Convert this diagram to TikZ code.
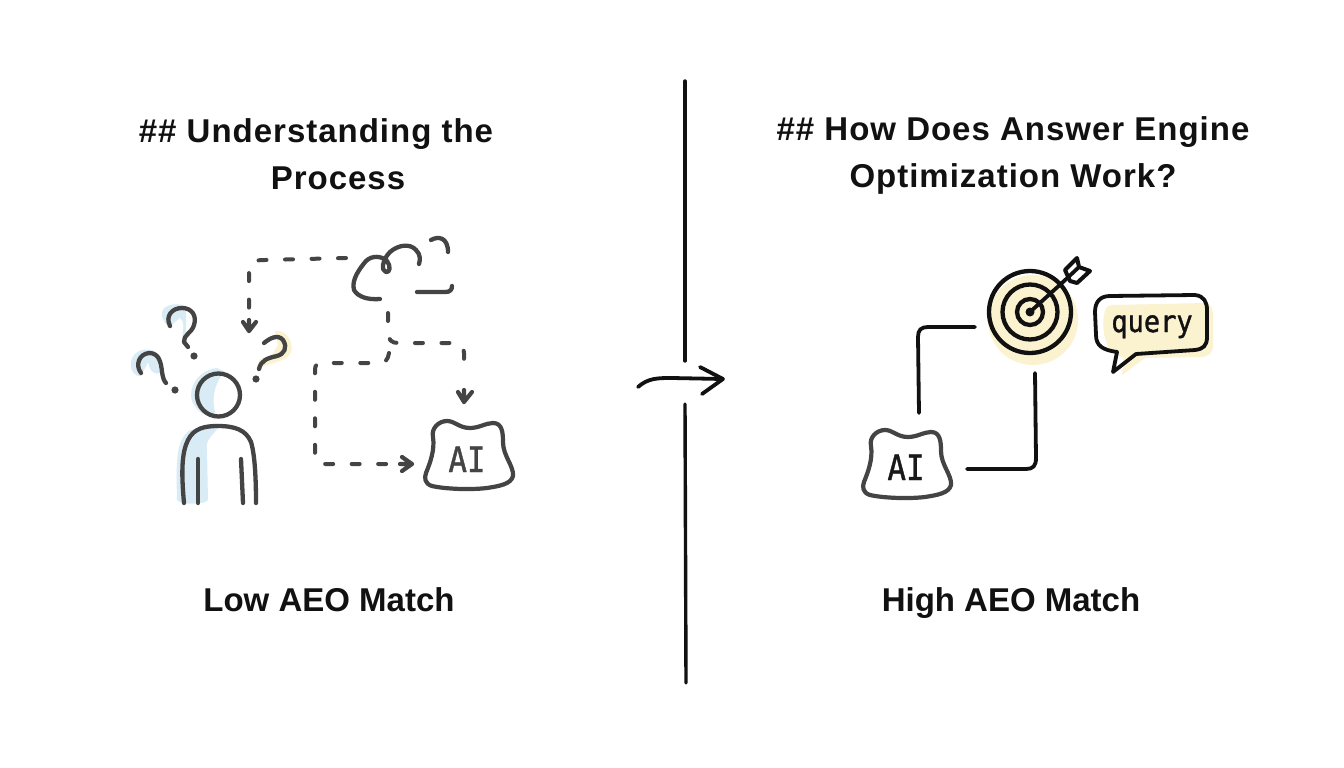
\documentclass[tikz,border=0pt]{standalone}
\usepackage{fontspec}
\usepackage{graphicx}
\setmainfont{Liberation Sans}
\newfontfamily\titlefont[LetterSpace=3]{Liberation Sans}
\newfontfamily\capfont{Liberation Sans}
\newfontfamily\aifont[FakeBold=1.3]{DejaVu Sans Mono}
\usetikzlibrary{calc}
\definecolor{ink}{HTML}{111111}
\definecolor{dgray}{HTML}{444444}
\definecolor{softblue}{HTML}{D9ECF6}
\definecolor{softyellow}{HTML}{FBF2CF}
\tikzset{
  titletext/.style={font=\titlefont\bfseries\fontsize{33}{38}\selectfont,text=ink,inner sep=0pt,anchor=base},
  captext/.style={font=\capfont\bfseries\fontsize{33}{38}\selectfont,text=ink,inner sep=0pt,anchor=base},
  lowline/.style={line width=4.3pt,draw=dgray,line cap=round,line join=round},
  dashline/.style={line width=4pt,draw=dgray,line join=round,dash pattern=on 8pt off 18.5pt,line cap=round},
  headline/.style={line width=4.2pt,draw=dgray,line cap=round,line join=round},
  inkline/.style={line width=3.8pt,draw=ink,line cap=round,line join=round},
  ringline/.style={line width=4.3pt,draw=ink},
  divider/.style={line width=3.4pt,draw=ink,line cap=round},
  blob/.style={line width=4.2pt,draw=#1,fill=white,line join=round},
  ailabel/.style={font=\aifont\fontsize{35}{38}\selectfont,inner sep=0pt,anchor=base}
}
\newcommand{\blobpath}{(433,437) .. controls (431,428) and (439,421) .. (447,421) .. controls (455,421) and (459,428) .. (470,428) .. controls (479,428) and (486,423) .. (493,423) .. controls (502,423) and (503,432) .. (503,442) .. controls (503,456) and (514,466) .. (513,476) .. controls (511,484) and (500,486) .. (487,488) .. controls (470,490) and (445,489) .. (432,486) .. controls (425,484) and (424,478) .. (426,473) .. controls (430,463) and (435,450) .. (433,437) -- cycle}
\begin{document}
\begin{tikzpicture}[x=1pt,y=-1pt]
\useasboundingbox (0,0) rectangle (1344,768);
\fill[white] (0,0) rectangle (1344,768);
% titles
\node[titletext] (t1a) at (316,142) {\#\# Understanding the};
\node[titletext] (t1b) at (338,189) {Process};
\node[titletext] (t2a) at (1013,140) {\#\# How Does Answer Engine};
\node[titletext] (t2b) at (1013,187) {Optimization Work?};
\node[captext] (c1) at (329,611) {Low AEO Match};
\node[captext] (c2) at (1011,611) {High AEO Match};
% divider
\coordinate (d1) at (685,81); \coordinate (d2) at (685,361);
\coordinate (d3) at (685,404); \coordinate (d4) at (686,683);
\draw[divider] (d1) -- (d2);
\draw[divider] (d3) -- (d4);
\draw[line width=3.8pt,draw=ink,line cap=round,line join=round] (638,387) .. controls (648,378) and (658,378) .. (672,378) -- (722,379);
\draw[line width=3.8pt,draw=ink,line cap=round,line join=round] (700,367) -- (723,379) -- (702,394);
% person blue wash
\fill[softblue] (217,368) .. controls (200,370) and (191,383) .. (191,396) .. controls (192,408) and (204,418) .. (217,417) .. controls (212,408) and (211,385) .. (225,372) -- cycle;
\fill[softblue] (177,500) .. controls (176,460) and (176,440) .. (190,430) -- (220,426) .. controls (212,436) and (205,440) .. (207,450) -- (208,500) .. controls (205,505) and (180,505) .. (177,500) -- cycle;
\fill[softblue] (162,316) .. controls (160,305) and (175,302) .. (186,306) -- (186,345) .. controls (178,335) and (188,325) .. (180,318) -- (170,326) .. controls (165,325) and (163,320) .. (162,316) -- cycle;
\fill[softblue] (131,362) .. controls (133,349) and (148,347) .. (156,352) -- (160,373) .. controls (155,375) and (150,372) .. (148,362) -- (141,376) .. controls (134,377) and (130,370) .. (131,362) -- cycle;
\fill[softyellow] (275,331) .. controls (288,329) and (294,345) .. (291,352) .. controls (287,362) and (272,362) .. (262,367) -- (257,370) -- (259,360) -- (272,355) -- (278,345) -- cycle;
% person
\coordinate (head) at (218.5,395);
\draw[lowline] (head) circle (21.5pt);
\draw[lowline] (184,503) .. controls (181,470) and (182,452) .. (188,440) .. controls (194,428) and (205,426) .. (218,426) .. controls (235,426) and (246,430) .. (251,442) .. controls (255,455) and (256,480) .. (256,503);
\draw[lowline] (198,459) -- (198,503);
\draw[lowline] (241,459) -- (243,503);
% question marks
\draw[lowline] (170,326) .. controls (165,316) and (172,308) .. (182,308) .. controls (192,308) and (197,316) .. (194,325) .. controls (192,333) and (183,335) .. (184,342) -- (188,347);
\fill[dgray] (194,356) circle (3.6pt);
\draw[lowline] (141,373) .. controls (135,365) and (139,354) .. (149,353) .. controls (159,353) and (161,362) .. (162,372) .. controls (163,378) and (164,381) .. (166,383);
\fill[dgray] (175,390) circle (3.6pt);
\draw[lowline] (264,343) .. controls (270,338) and (278,334) .. (283,340) .. controls (288,348) and (284,354) .. (277,356) .. controls (268,358) and (261,360) .. (259,369);
\fill[dgray] (256,379) circle (3.6pt);
% cloud
\draw[lowline] (380,299) .. controls (368,300) and (358,297) .. (354,290) .. controls (351,280) and (360,268) .. (366,261) .. controls (372,255) and (382,256) .. (387,261) .. controls (391,266) and (390,273) .. (386,272) .. controls (381,271) and (382,260) .. (390,252) .. controls (398,245) and (410,243) .. (416,250) .. controls (421,255) and (420,260) .. (419,264);
\draw[lowline] (431,240) .. controls (438,236) and (448,237) .. (448,252);
\draw[lowline] (417,292) -- (445,292) .. controls (450,292) and (452,290) .. (452,286);
% dashed connectors
\coordinate (top) at (346,258);
\coordinate (qarrow) at (249,318);
\draw[dashline] (top) -- (265,260) .. controls (253,260) and (249,262) .. (249,270) -- (qarrow);
\draw[headline] (243,322) -- (249,331) -- (256,322) (249,331) -- (249,320);
\coordinate (cloudb) at (388,313);
\coordinate (aiA) at (464,390);
\coordinate (aiB) at (400,464);
\draw[dashline] (cloudb) -- (388,333) .. controls (388,340) and (392,343) .. (398,343) -- (455,343) .. controls (461,343) and (464,347) .. (464,353) -- (464,375);
\draw[headline] (458,392) -- (464,402) -- (472,392) (464,402) -- (aiA);
\draw[dashline] (389,353) .. controls (388,360) and (385,363) .. (379,363) -- (322,363) .. controls (317,363) and (315,365) .. (315,370) -- (315,457) .. controls (315,462) and (318,464) .. (323,464) -- (392,464);
\draw[headline] (402,457) -- (412,464) -- (402,471) (412,464) -- (aiB);
% AI blobs
\draw[blob=dgray] \blobpath;
\node[ailabel,text=dgray] (ai1) at (467,472) {\scalebox{0.88}[1]{AI}};
\begin{scope}[xshift=438pt,yshift=-9pt]
\draw[blob=dgray] \blobpath;
\end{scope}
\node[ailabel,text=ink!85!dgray] (ai2) at (906,480) {\scalebox{0.88}[1]{AI}};
% target
\coordinate (tc) at (1030,312);
\fill[softyellow] (1033,320) circle (45pt);
\draw[ringline] (tc) circle (41pt);
\draw[ringline] (tc) circle (27.5pt);
\draw[ringline] (tc) circle (13pt);
\fill[ink] (tc) circle (4.5pt);
\draw[inkline] (tc) -- (1063,282);
\draw[inkline,line width=4pt,fill=white] (1065,270) -- (1077,258) -- (1079,267) -- (1090,271) -- (1077,283) -- (1070,281) -- cycle;
\draw[inkline] (1063,282) -- (1079,267);
% connectors right
\coordinate (e1) at (975,327); \coordinate (e2) at (919,413);
\coordinate (e3) at (1035,373); \coordinate (e4) at (967,469);
\draw[inkline] (e1) -- (928,327) .. controls (921,327) and (918,330) .. (918,337) -- (e2);
\draw[inkline] (e3) -- (1036,458) .. controls (1036,466) and (1033,469) .. (1026,469) -- (e4);
% query bubble
\fill[softyellow] (1112,305) -- (1205,303) .. controls (1212,304) and (1213,310) .. (1213,318) -- (1213,345) .. controls (1213,354) and (1208,357) .. (1200,357) -- (1145,358) -- (1122,375) -- (1124,358) -- (1112,352) .. controls (1104,345) and (1102,325) .. (1104,315) .. controls (1105,308) and (1108,305) .. (1112,305) -- cycle;
\draw[inkline] (1110,296) -- (1195,295) .. controls (1204,296) and (1207,302) .. (1207,310) -- (1207,337) .. controls (1207,346) and (1203,349) .. (1195,350) -- (1136,354) -- (1113,372) -- (1117,352) .. controls (1103,350) and (1096,346) .. (1096,335) -- (1095,312) .. controls (1095,302) and (1100,296) .. (1110,296) -- cycle;
\node[font=\aifont\fontsize{30}{32}\selectfont,text=ink,inner sep=0pt,anchor=base] (q) at (1152,332) {\scalebox{0.9}[1]{query}};
\end{tikzpicture}
\end{document}
